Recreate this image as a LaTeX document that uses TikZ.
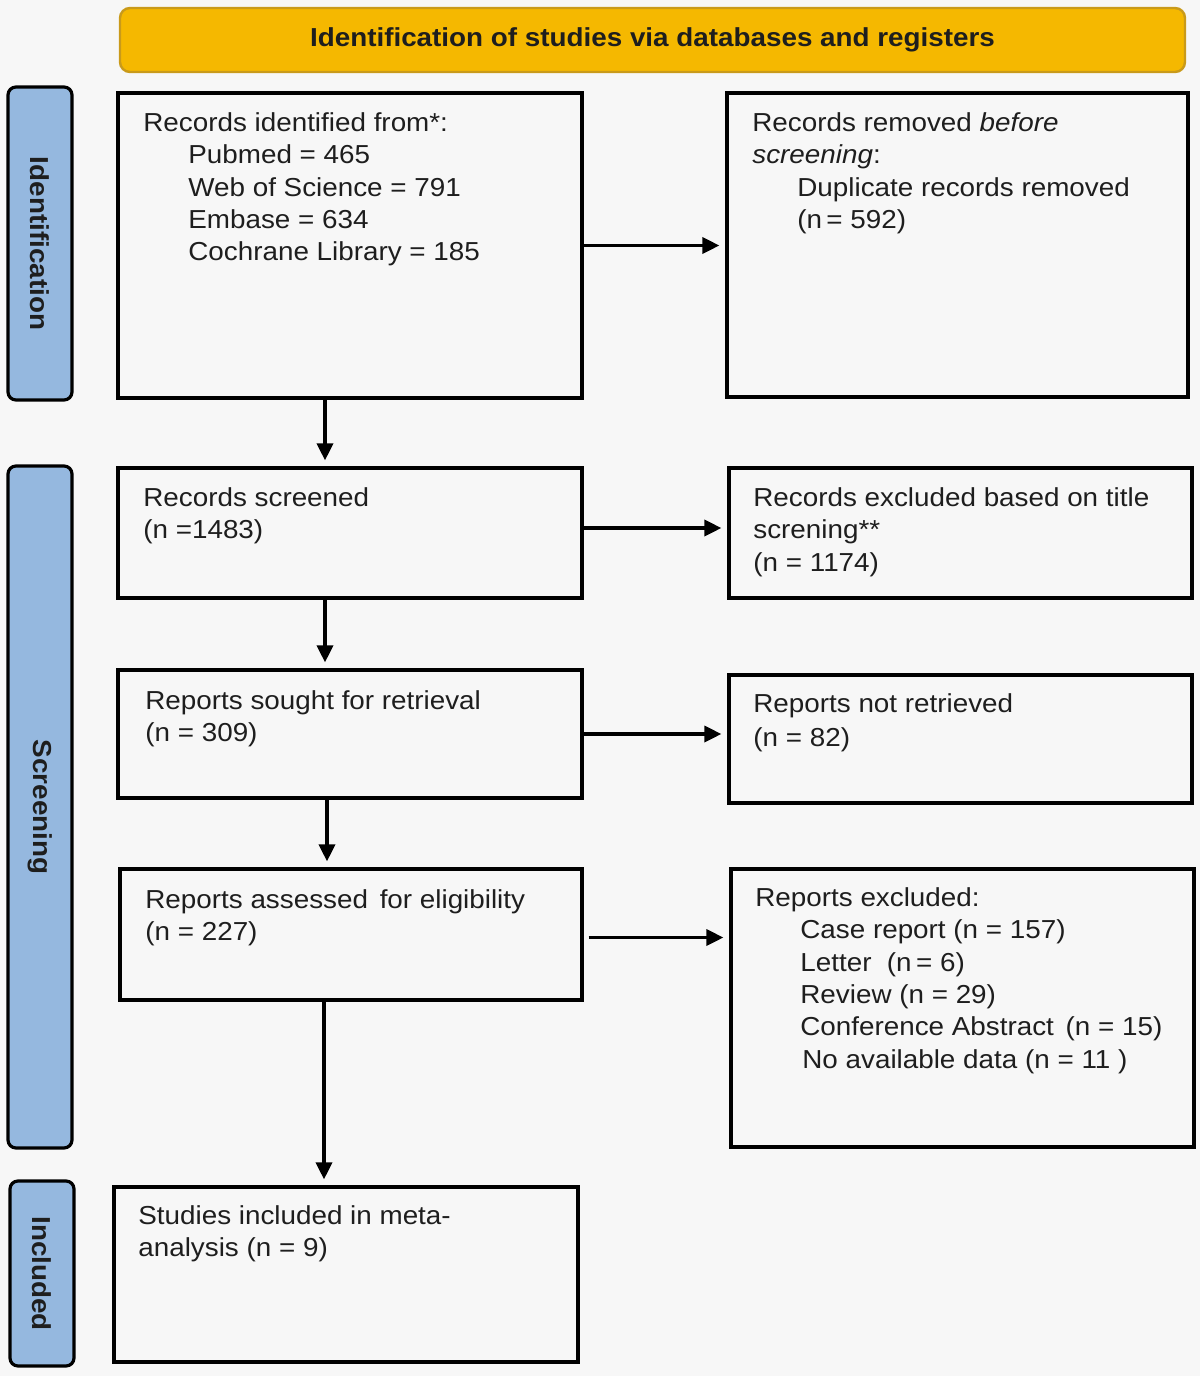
\documentclass[tikz,border=0pt]{standalone}
\usepackage{fontspec}
\setmainfont{Liberation Sans}[FakeStretch=1.07]
\usetikzlibrary{fit,arrows.meta}
\definecolor{bg}{HTML}{F7F7F7}
\definecolor{gold}{HTML}{F5B800}
\definecolor{golddark}{HTML}{C99A1A}
\definecolor{sideblue}{HTML}{95B8DF}
\definecolor{ink}{HTML}{1E1E1E}
\begin{document}
\begin{tikzpicture}[x=0.5pt,y=-0.5pt,
  box/.style={draw=black,line width=1.6pt,fill=bg,inner sep=0pt},
  side/.style={draw=black,line width=1.6pt,fill=sideblue,rounded corners=4pt,inner sep=0pt},
  header/.style={draw=golddark,line width=1.2pt,fill=gold,rounded corners=5pt,inner sep=0pt},
  txt/.style={anchor=north west,inner sep=0pt,align=left,text=ink,font=\fontsize{13}{16.2}\selectfont},
  sidetxt/.style={rotate=-90,inner sep=0pt,text=ink,font=\fontsize{13}{16}\selectfont\bfseries},
  arr/.style={line width=1.7pt,-{Triangle[length=8.5pt,width=8pt]},shorten >=3pt}
]
\newcommand{\ind}{\hspace*{22.5pt}}
\useasboundingbox (0,0) rectangle (1200,1376);
\fill[bg] (0,0) rectangle (1200,1376);

% header
\node[header,fit={(120,8) (1185,72)}] (hd) {};
\node[inner sep=0pt,text=ink,font=\fontsize{13}{15}\selectfont\bfseries] (hdt) at (hd.center) {Identification of studies via databases and registers};

% side labels
\node[side,fit={(8,87) (72,400)}] (s1) {};
\node[sidetxt] (s1t) at (s1.center) {Identification};
\node[side,fit={(8,466) (72,1148)}] (s2) {};
\node[sidetxt] (s2t) at (s2.center) {Screening};
\node[side,fit={(10,1181) (74,1366)}] (s3) {};
\node[sidetxt] (s3t) at (s3.center) {Included};

% boxes
\node[box,fit={(118,93) (582,398)}] (b1) {};
\node[box,fit={(727,93) (1188,397)}] (b2) {};
\node[box,fit={(118,468) (582,598)}] (b3) {};
\node[box,fit={(729,468) (1192,598)}] (b4) {};
\node[box,fit={(118,670) (582,798)}] (b5) {};
\node[box,fit={(729,675) (1192,803)}] (b6) {};
\node[box,fit={(120,869) (582,1000)}] (b7) {};
\node[box,fit={(731,869) (1194,1147)}] (b8) {};
\node[box,fit={(114,1187) (578,1362)}] (b9) {};

% texts
\node[txt] (t1) at (143,112) {Records identified from*:\\
\ind Pubmed = 465\\
\ind Web of Science = 791\\
\ind Embase = 634\\
\ind Cochrane Library = 185};
\node[txt] (t2) at (752,112) {Records removed \textit{before}\\
\textit{screening}:\\
\ind Duplicate records removed\\
\ind (n\,= 592)};
\node[txt] (t3) at (143,487) {Records screened\\(n =1483)};
\node[txt] (t4) at (753,487) {Records excluded based on title\\screning**\\(n = 1174)};
\node[txt] (t5) at (145,690) {Reports sought for retrieval\\(n = 309)};
\node[txt] (t6) at (753,693) {Reports not retrieved\\[0.8pt](n = 82)};
\node[txt] (t7) at (145,889) {Reports assessed\hspace{2pt} for eligibility\\(n = 227)};
\node[txt] (t8) at (755,887) {Reports excluded:\\
\ind Case report (n = 157)\\
\ind Letter\ \ (n\,= 6)\\
\ind Review (n = 29)\\
\ind Conference Abstract\hspace{2pt} (n = 15)\\
\ind\hspace*{1pt}No available data (n = 11 )};
\node[txt] (t9) at (138,1205) {Studies included in meta-\\analysis (n = 9)};

% connector columns
\coordinate (c1) at (325,0);
\coordinate (c2) at (325,0);
\coordinate (c3) at (327,0);
\coordinate (c4) at (324,0);

% arrows
\draw[arr] (b1.east) -- (b1.east -| b2.west);
\draw[arr] (b1.south -| c1) -- (b3.north -| c1);
\draw[arr] (b3.east) ++(0,-5) coordinate (a3) (a3) -- (a3 -| b4.west);
\draw[arr] (b3.south -| c2) -- (b5.north -| c2);
\draw[arr] (b5.east) -- (b5.east -| b6.west);
\draw[arr] (b5.south -| c3) -- (b7.north -| c3);
\draw[arr] (b7.east) ++(5,3) coordinate (a7) (a7) -- (a7 -| b8.west);
\draw[arr] (b7.south -| c4) -- (b9.north -| c4);
\end{tikzpicture}
\end{document}
